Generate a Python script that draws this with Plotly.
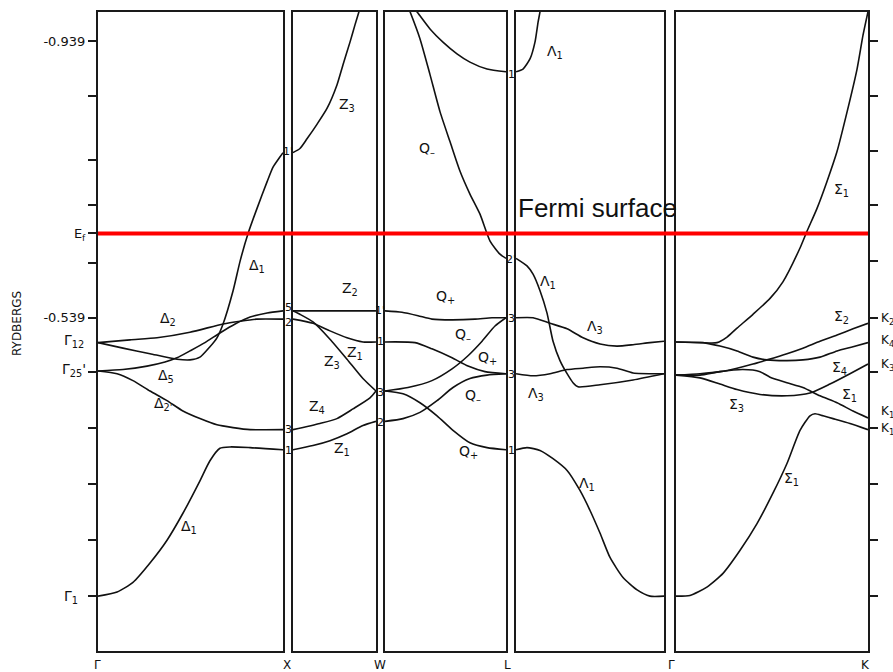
import plotly.graph_objects as go

# ---------------- data (energies in Rydbergs, k = fraction along each segment) -------------
EF = 0.661
E_RANGE = [0.0566, 0.9816]

LEFT_TICKS = [0.939, 0.860, 0.767, 0.702, 0.661, 0.618, 0.539, 0.461, 0.379, 0.299, 0.218, 0.136]
LEFT_TICK_TEXT = ["-0.939", "", "", "", "E<sub>f</sub>", "", "-0.539", "", "", "", "", ""]
RIGHT_TICKS = [0.939, 0.860, 0.781, 0.702, 0.621, 0.539, 0.461, 0.379, 0.299, 0.218, 0.136]

SEGMENTS = ["Γ", "X", "W", "L", "Γ", "K"]

# Γ – X
GX_D1LOW_K = [0, 0.103, 0.189, 0.281, 0.373, 0.459, 0.551, 0.605, 0.659, 0.714, 0.822, 1.0]
GX_D1LOW_E = [0.136, 0.142, 0.156, 0.184, 0.217, 0.256, 0.303, 0.332, 0.350, 0.352, 0.351, 0.348]
GX_D2P_K = [0, 0.103, 0.189, 0.281, 0.373, 0.459, 0.551, 0.643, 0.730, 0.822, 1.0]
GX_D2P_E = [0.462, 0.458, 0.448, 0.433, 0.419, 0.404, 0.393, 0.384, 0.380, 0.377, 0.377]
GX_D5_K = [0, 0.135, 0.265, 0.362, 0.427, 0.497, 0.578, 0.659, 0.741, 0.822, 0.914, 1.0]
GX_D5_E = [0.462, 0.464, 0.469, 0.475, 0.481, 0.491, 0.503, 0.517, 0.530, 0.540, 0.546, 0.549]
GX_D1UP_K = [0, 0.135, 0.281, 0.427, 0.497, 0.551, 0.605, 0.643, 0.676, 0.730, 0.768, 0.811,
             0.859, 0.914, 0.946, 0.984, 1.0]
GX_D1UP_E = [0.503, 0.495, 0.487, 0.479, 0.478, 0.482, 0.497, 0.510, 0.530, 0.578, 0.621, 0.661,
             0.697, 0.736, 0.757, 0.772, 0.778]
GX_D2_K = [0, 0.173, 0.319, 0.497, 0.676, 0.768, 0.859, 1.0]
GX_D2_E = [0.503, 0.507, 0.510, 0.518, 0.530, 0.534, 0.537, 0.537]

# X – W
XW_Z3UP_K = [0, 0.084, 0.169, 0.289, 0.410, 0.530, 0.602, 0.687, 0.747, 0.795, 0.831]
XW_Z3UP_E = [0.778, 0.784, 0.798, 0.819, 0.842, 0.876, 0.905, 0.938, 0.963, 0.982, 0.996]
XW_Z2_K = [0, 0.5, 1.0]
XW_Z2_E = [0.549, 0.549, 0.549]
XW_Z3_K = [0, 0.084, 0.241, 0.446, 0.651, 0.843, 1.0]
XW_Z3_E = [0.549, 0.544, 0.533, 0.508, 0.479, 0.451, 0.433]
XW_Z1UP_K = [0, 0.241, 0.446, 0.651, 0.843, 1.0]
XW_Z1UP_E = [0.537, 0.531, 0.520, 0.510, 0.504, 0.504]
XW_Z4_K = [0, 0.325, 0.530, 0.723, 0.928, 1.0]
XW_Z4_E = [0.377, 0.386, 0.393, 0.407, 0.423, 0.433]
XW_Z1LOW_K = [0, 0.241, 0.446, 0.651, 0.843, 1.0]
XW_Z1LOW_E = [0.348, 0.354, 0.361, 0.371, 0.383, 0.389]

# W – L
WL_QTOP_K = [0, 0.140, 0.273, 0.388, 0.554, 0.744, 0.884, 1.0]
WL_QTOP_E = [0.549, 0.547, 0.542, 0.537, 0.536, 0.537, 0.539, 0.539]
WL_W1L3_K = [0, 0.248, 0.388, 0.554, 0.686, 0.826, 1.0]
WL_W1L3_E = [0.504, 0.503, 0.494, 0.481, 0.469, 0.461, 0.458]
WL_W3L3_K = [0, 0.190, 0.388, 0.554, 0.686, 0.802, 0.909, 1.0]
WL_W3L3_E = [0.433, 0.438, 0.448, 0.465, 0.484, 0.505, 0.527, 0.539]
WL_W3L1_K = [0, 0.149, 0.289, 0.430, 0.562, 0.702, 0.843, 1.0]
WL_W3L1_E = [0.433, 0.429, 0.416, 0.397, 0.376, 0.358, 0.351, 0.348]
WL_W2L3_K = [0, 0.149, 0.289, 0.430, 0.562, 0.702, 0.843, 1.0]
WL_W2L3_E = [0.389, 0.393, 0.402, 0.419, 0.438, 0.451, 0.456, 0.458]
WL_QSTEEP_K = [0.174, 0.207, 0.289, 0.372, 0.455, 0.537, 0.620, 0.702, 0.785, 0.868, 0.950, 1.0]
WL_QSTEEP_E = [0.996, 0.982, 0.943, 0.891, 0.837, 0.794, 0.751, 0.718, 0.689, 0.650, 0.631, 0.625]
WL_L1TOP_K = [0.202, 0.264, 0.372, 0.479, 0.595, 0.702, 0.843, 1.0]
WL_L1TOP_E = [0.996, 0.982, 0.957, 0.938, 0.921, 0.909, 0.899, 0.895]

# L – Γ
LG_L1TOP_K = [0, 0.047, 0.095, 0.128, 0.149, 0.162, 0.169]
LG_L1TOP_E = [0.895, 0.899, 0.914, 0.938, 0.967, 0.982, 0.996]
LG_L1MID_K = [0, 0.074, 0.115, 0.162, 0.209, 0.250, 0.297, 0.345, 0.385, 0.419, 0.568, 0.791, 1.0]
LG_L1MID_E = [0.625, 0.614, 0.602, 0.578, 0.546, 0.505, 0.477, 0.458, 0.445, 0.439, 0.442, 0.449, 0.458]
LG_L3UP_K = [0, 0.115, 0.230, 0.345, 0.453, 0.568, 0.682, 0.791, 0.905, 1.0]
LG_L3UP_E = [0.539, 0.539, 0.531, 0.523, 0.510, 0.501, 0.498, 0.500, 0.503, 0.505]
LG_L3LOW_K = [0, 0.115, 0.230, 0.345, 0.453, 0.568, 0.682, 0.791, 1.0]
LG_L3LOW_E = [0.458, 0.455, 0.458, 0.464, 0.466, 0.468, 0.466, 0.459, 0.458]
LG_L1LOW_K = [0, 0.074, 0.162, 0.250, 0.345, 0.432, 0.500, 0.568, 0.635, 0.723, 0.818, 0.905, 1.0]
LG_L1LOW_E = [0.348, 0.351, 0.347, 0.335, 0.318, 0.289, 0.260, 0.227, 0.192, 0.163, 0.145, 0.136, 0.136]

# Γ – K
GK_S1LOW_K = [0, 0.073, 0.161, 0.245, 0.333, 0.422, 0.505, 0.578, 0.646, 0.698, 0.724, 0.766, 0.818, 0.906, 1.0]
GK_S1LOW_E = [0.136, 0.137, 0.149, 0.169, 0.202, 0.241, 0.285, 0.328, 0.376, 0.397, 0.400, 0.397, 0.393, 0.386, 0.377]
GK_S1UP_K = [0, 0.125, 0.214, 0.266, 0.318, 0.401, 0.490, 0.557, 0.646, 0.682, 0.734, 0.786, 0.839, 0.891, 0.943, 0.974, 1.0]
GK_S1UP_E = [0.504, 0.503, 0.503, 0.511, 0.524, 0.544, 0.567, 0.591, 0.640, 0.664, 0.697, 0.736, 0.780, 0.837, 0.899, 0.948, 0.982]
GK_S4_K = [0, 0.141, 0.229, 0.318, 0.401, 0.474, 0.578, 0.661, 0.750, 0.839, 0.922, 1.0]
GK_S4_E = [0.504, 0.503, 0.498, 0.491, 0.482, 0.478, 0.477, 0.478, 0.482, 0.491, 0.497, 0.503]
GK_S2_K = [0, 0.125, 0.229, 0.318, 0.401, 0.474, 0.578, 0.661, 0.750, 0.839, 0.922, 1.0]
GK_S2_E = [0.456, 0.458, 0.461, 0.466, 0.472, 0.478, 0.487, 0.495, 0.505, 0.514, 0.523, 0.531]
GK_S1MID_K = [0, 0.125, 0.229, 0.349, 0.438, 0.490, 0.578, 0.661, 0.750, 0.839, 0.922, 1.0]
GK_S1MID_E = [0.456, 0.456, 0.461, 0.464, 0.461, 0.453, 0.445, 0.438, 0.426, 0.416, 0.404, 0.394]
GK_S3_K = [0, 0.125, 0.229, 0.318, 0.438, 0.578, 0.698, 0.802, 0.906, 1.0]
GK_S3_E = [0.456, 0.452, 0.443, 0.435, 0.428, 0.426, 0.430, 0.443, 0.458, 0.472]

BANDS = [
    (1, GX_D1LOW_K, GX_D1LOW_E), (1, GX_D2P_K, GX_D2P_E), (1, GX_D5_K, GX_D5_E),
    (1, GX_D1UP_K, GX_D1UP_E), (1, GX_D2_K, GX_D2_E),
    (2, XW_Z3UP_K, XW_Z3UP_E), (2, XW_Z2_K, XW_Z2_E), (2, XW_Z3_K, XW_Z3_E),
    (2, XW_Z1UP_K, XW_Z1UP_E), (2, XW_Z4_K, XW_Z4_E), (2, XW_Z1LOW_K, XW_Z1LOW_E),
    (3, WL_QTOP_K, WL_QTOP_E), (3, WL_W1L3_K, WL_W1L3_E), (3, WL_W3L3_K, WL_W3L3_E),
    (3, WL_W3L1_K, WL_W3L1_E), (3, WL_W2L3_K, WL_W2L3_E), (3, WL_QSTEEP_K, WL_QSTEEP_E),
    (3, WL_L1TOP_K, WL_L1TOP_E),
    (4, LG_L1TOP_K, LG_L1TOP_E), (4, LG_L1MID_K, LG_L1MID_E), (4, LG_L3UP_K, LG_L3UP_E),
    (4, LG_L3LOW_K, LG_L3LOW_E), (4, LG_L1LOW_K, LG_L1LOW_E),
    (5, GK_S1LOW_K, GK_S1LOW_E), (5, GK_S1UP_K, GK_S1UP_E), (5, GK_S4_K, GK_S4_E),
    (5, GK_S2_K, GK_S2_E), (5, GK_S1MID_K, GK_S1MID_E), (5, GK_S3_K, GK_S3_E),
]

# ---------------- layout geometry -------------
W, H = 893, 672
ML, MR, MT, MB = 98, 25, 10, 21
PW, PH = W - ML - MR, H - MT - MB
PANEL_DOMAINS = [[0.0, 0.2403], [0.2532, 0.3610], [0.3727, 0.5299], [0.5429, 0.7351], [0.7506, 1.0]]
FRAME = "#1a1a1a"
LINE = "#111111"

fig = go.Figure()
for p, k, e in BANDS:
    fig.add_trace(go.Scatter(
        x=k, y=e, mode="lines", line=dict(color=LINE, width=1.6, shape="spline", smoothing=0.6),
        xaxis="x" if p == 1 else f"x{p}", yaxis="y" if p == 1 else f"y{p}",
        hoverinfo="skip", showlegend=False))

layout = dict(width=W, height=H, margin=dict(l=ML, r=MR, t=MT, b=MB),
              plot_bgcolor="white", paper_bgcolor="white", showlegend=False)
for i, dom in enumerate(PANEL_DOMAINS, start=1):
    sx = "" if i == 1 else str(i)
    layout[f"xaxis{sx}"] = dict(domain=dom, range=[0, 1], anchor=f"y{sx}", showline=True, mirror=True,
                                linecolor=FRAME, linewidth=2.2, showgrid=False, zeroline=False,
                                showticklabels=False, ticks="", fixedrange=True)
    ya = dict(domain=[0, 1], range=E_RANGE, anchor=f"x{sx}", showline=True, mirror=True,
              linecolor=FRAME, linewidth=2.2, showgrid=False, zeroline=False,
              showticklabels=False, ticks="", fixedrange=True)
    if i == 1:
        ya.update(ticks="outside", ticklen=8, tickwidth=1.5, tickcolor=FRAME,
                  tickmode="array", tickvals=LEFT_TICKS, ticktext=LEFT_TICK_TEXT,
                  showticklabels=True, tickfont=dict(family="DejaVu Sans", size=13, color="#111"))
    if i == 5:
        ya.update(side="right", ticks="outside", ticklen=8, tickwidth=1.5, tickcolor=FRAME,
                  tickmode="array", tickvals=RIGHT_TICKS)
    layout[f"yaxis{sx}"] = ya
fig.update_layout(**layout)

# Fermi level line across all panels
fig.add_shape(type="line", xref="paper", x0=0, x1=1, yref="y", y0=EF, y1=EF,
              line=dict(color="#ff0000", width=4), layer="above")

ann = []


def lab(text, px, py, size=13, xanchor="center", yanchor="middle", family="DejaVu Sans", angle=0):
    ann.append(dict(text=text, x=(px - ML) / PW, y=(H - MB - py) / PH, xref="paper", yref="paper",
                    showarrow=False, xanchor=xanchor, yanchor=yanchor, textangle=angle,
                    font=dict(family=family, size=size, color="#111")))


# band labels
for t, px, py in [
    ("Δ<sub>1</sub>", 257, 265), ("Δ<sub>2</sub>", 168, 318), ("Δ<sub>5</sub>", 166, 375),
    ("Δ<sub>2'</sub>", 163, 403), ("Δ<sub>1</sub>", 189, 527),
    ("Z<sub>3</sub>", 347, 103), ("Z<sub>2</sub>", 350, 288), ("Z<sub>3</sub>", 332, 361),
    ("Z<sub>1</sub>", 355, 352), ("Z<sub>4</sub>", 317, 406), ("Z<sub>1</sub>", 342, 448),
    ("Q<sub>–</sub>", 427, 147), ("Q<sub>+</sub>", 445, 296), ("Q<sub>–</sub>", 463, 334),
    ("Q<sub>+</sub>", 487, 357), ("Q<sub>–</sub>", 473, 395), ("Q<sub>+</sub>", 468, 451),
    ("Λ<sub>1</sub>", 555, 50), ("Λ<sub>1</sub>", 548, 281), ("Λ<sub>3</sub>", 595, 326),
    ("Λ<sub>3</sub>", 536, 393), ("Λ<sub>1</sub>", 587, 483),
    ("Σ<sub>1</sub>", 841, 189), ("Σ<sub>2</sub>", 841, 316), ("Σ<sub>4</sub>", 839, 367),
    ("Σ<sub>1</sub>", 849, 394), ("Σ<sub>3</sub>", 736, 404), ("Σ<sub>1</sub>", 791, 478),
]:
    lab(t, px, py, size=14)

# vertex (irreducible representation) labels in the gaps
for t, px, py in [
    ("1'", 288, 150), ("5", 288, 306), ("2", 288, 321), ("3", 288, 429), ("1", 288, 450),
    ("1'", 380, 309), ("1", 380, 341), ("3", 380, 392), ("2", 380, 422),
    ("1", 511, 73), ("2'", 511, 258), ("3", 511, 317), ("3", 511, 374), ("1", 511, 450),
]:
    lab(t, px, py, size=11)

# right-hand K labels
for t, py in [("K<sub>2</sub>", 318), ("K<sub>4</sub>", 340), ("K<sub>3</sub>", 364),
              ("K<sub>1</sub>", 411), ("K<sub>1</sub>", 428)]:
    lab(t, 879, py, size=12, xanchor="left")

# left-hand Γ labels
lab("Γ<sub>12</sub>", 86, 340, size=14, xanchor="right")
lab("Γ<sub>25</sub>'", 88, 369, size=14, xanchor="right")
lab("Γ<sub>1</sub>", 80, 597, size=14, xanchor="right")

# axis title
lab("RYDBERGS", 17, 323, size=12, angle=-90)

# symmetry points along the bottom
for t, px in zip(SEGMENTS, [97, 287, 380, 507, 671, 865]):
    lab(t, px, 665, size=12)

# Fermi surface caption
lab("Fermi surface", 516, 207, size=26, xanchor="left", family="Liberation Sans, Arial")

fig.update_layout(annotations=ann)
fig.write_html("out.html", config={"displayModeBar": False},
               post_script="document.body.style.margin='0px';document.body.style.overflow='hidden';")
